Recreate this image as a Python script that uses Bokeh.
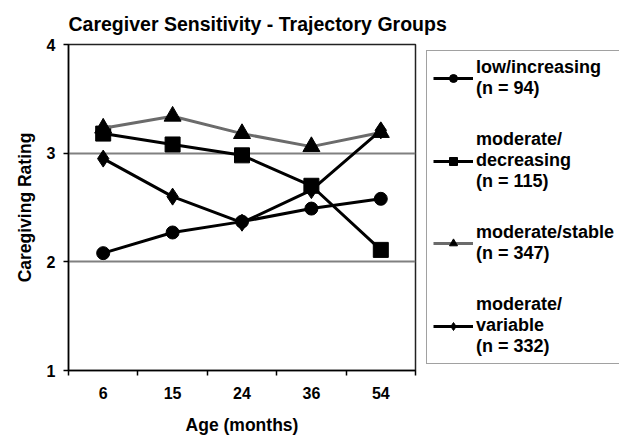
from bokeh.plotting import figure
from bokeh.models import FixedTicker, Legend, LegendItem, Range1d
from bokeh.embed import file_html
from bokeh.resources import INLINE

# ---- data ----
ages = ["6", "15", "24", "36", "54"]
low_increasing = [2.08, 2.27, 2.37, 2.49, 2.58]
mod_decreasing = [3.18, 3.08, 2.98, 2.70, 2.11]
mod_stable = [3.23, 3.34, 3.18, 3.06, 3.19]
mod_variable = [2.95, 2.60, 2.36, 2.66, 3.21]
series_labels = [
    "low/increasing\n(n = 94)",
    "moderate/\ndecreasing\n(n = 115)",
    "moderate/stable\n(n = 347)",
    "moderate/\nvariable\n(n = 332)",
]
y_ticks = [1, 2, 3, 4]
grid_ticks = [2, 3]

FONT = "Liberation Sans"

xs = [i + 0.5 for i in range(len(ages))]
bounds = list(range(len(ages) + 1))

p = figure(
    frame_width=347, frame_height=326,
    x_range=Range1d(0, len(ages)), y_range=Range1d(1, 4),
    output_backend="svg", toolbar_location=None,
    min_border_left=68, min_border_top=44, min_border_bottom=60,
    min_border_right=10,
    title="Caregiver Sensitivity - Trajectory Groups",
)
p.background_fill_color = "white"
p.border_fill_color = "white"
p.outline_line_color = "#222222"
p.outline_line_width = 1.5

p.title.text_font = FONT
p.title.text_font_size = "19.5px"
p.title.text_font_style = "bold"
p.title.align = "left"
p.title.offset = 0
p.title.standoff = 20
p.title.text_color = "black"

# x axis
xa = p.xaxis[0]
xa.ticker = FixedTicker(ticks=xs, minor_ticks=bounds)
xa.major_label_overrides = {x: a for x, a in zip(xs, ages)}
xa.major_tick_out = 0
xa.major_tick_in = 0
xa.minor_tick_out = 5
xa.minor_tick_in = 0
xa.minor_tick_line_color = "black"
xa.minor_tick_line_width = 1.5
xa.axis_line_color = "black"
xa.axis_line_width = 1.5
xa.major_label_text_font = FONT
xa.major_label_text_font_size = "16px"
xa.major_label_text_font_style = "bold"
xa.major_label_text_color = "black"
xa.major_label_standoff = 11
xa.axis_label = "Age (months)"
xa.axis_label_text_font = FONT
xa.axis_label_text_font_size = "17.5px"
xa.axis_label_text_font_style = "bold"
xa.axis_label_text_color = "black"
xa.axis_label_standoff = 13

# y axis
ya = p.yaxis[0]
ya.ticker = FixedTicker(ticks=y_ticks)
ya.major_tick_out = 5
ya.major_tick_in = 0
ya.minor_tick_out = 0
ya.minor_tick_in = 0
ya.major_tick_line_color = "black"
ya.major_tick_line_width = 1.5
ya.axis_line_color = "black"
ya.axis_line_width = 1.5
ya.major_label_text_font = FONT
ya.major_label_text_font_size = "16px"
ya.major_label_text_font_style = "bold"
ya.major_label_text_color = "black"
ya.major_label_standoff = 8
ya.axis_label = "Caregiving Rating"
ya.axis_label_text_font = FONT
ya.axis_label_text_font_size = "17.5px"
ya.axis_label_text_font_style = "bold"
ya.axis_label_text_color = "black"
ya.axis_label_standoff = 9

p.xgrid.visible = False
p.ygrid.ticker = FixedTicker(ticks=grid_ticks)
p.ygrid.grid_line_color = "#808080"
p.ygrid.grid_line_width = 2

# series
specs = [
    (low_increasing, "circle", 13, "black"),
    (mod_decreasing, "square", 15, "black"),
    (mod_stable, "triangle", 17, "#6b6b6b"),
    (mod_variable, "diamond", 17, "black"),
]
items = []
for (vals, marker, size, lc), lab in zip(specs, series_labels):
    l = p.line(xs, vals, line_color=lc, line_width=3)
    s = p.scatter(xs, vals, marker=marker, size=size, fill_color="black",
                  line_color="black", line_width=1)
    items.append(LegendItem(label=lab, renderers=[l, s]))

legend = Legend(
    items=items, location=(11, 6),
    label_text_font=FONT, label_text_font_size="18px",
    label_text_font_style="bold", label_text_color="black",
    label_text_line_height=1.11,
    glyph_width=40, glyph_height=20, spacing=30, padding=6, margin=0,
    border_line_color="#444444", border_line_width=1.5,
    background_fill_color="white", label_standoff=3,
)
p.add_layout(legend, "right")

open("out.html", "w").write(file_html(p, INLINE))
